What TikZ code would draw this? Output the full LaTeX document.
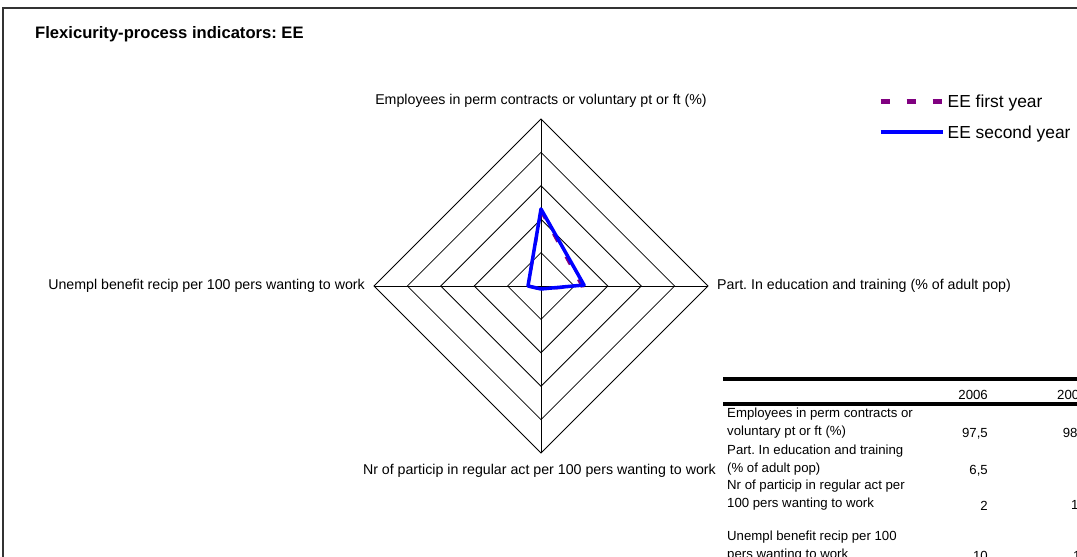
\documentclass[tikz,border=0pt]{standalone}
\usepackage{fontspec}
\setmainfont{Liberation Sans}
\usetikzlibrary{positioning}
\definecolor{seriespurple}{RGB}{128,0,128}
\definecolor{seriesblue}{RGB}{0,0,255}
\frenchspacing

\tikzset{
  axislabel/.style={inner sep=0pt, font=\fontsize{14.2}{17}\selectfont},
  cell/.style={inner sep=0pt, anchor=west, align=left, font=\fontsize{13.2}{18}\selectfont},
  num/.style={inner sep=0pt, font=\fontsize{13.2}{16}\selectfont},
  legendtext/.style={inner sep=0pt, anchor=west, font=\fontsize{17.4}{20}\selectfont},
  ring/.style={line width=0.8pt},
  firstyear/.style={seriespurple, line width=3pt, dash pattern=on 9pt off 17pt},
  secondyear/.style={seriesblue, line width=3.5pt, line join=round},
  tablerule/.style={line width=3.3pt},
}

\begin{document}
\begin{tikzpicture}[x=1pt, y=-1pt]

    \useasboundingbox (0,0) rectangle (1077,557);
    \clip (0,0) rectangle (1077,557);

    % Frame and title
    \draw[line width=1.5pt, black!80] (3,570) -- (3,8) -- (1090,8);
    \node[anchor=west, inner sep=0pt, font=\fontsize{16.6}{20}\selectfont\bfseries] (title) at (35,34.5) {Flexicurity-process indicators: EE};

    % Radar grid
    \coordinate (ctr) at (541,286);
    \coordinate (vTop) at (541,119);
    \coordinate (vRight) at (708,286);
    \coordinate (vBot) at (541,453);
    \coordinate (vLeft) at (374,286);
    \foreach \r in {1,...,5}
        \draw[ring] (541,{286-33.4*\r}) -- ({541+33.4*\r},286) -- (541,{286+33.4*\r}) -- ({541-33.4*\r},286) -- cycle;
    \draw[ring] (vTop) -- (vBot);
    \draw[ring] (vLeft) -- (vRight);

    % Axis labels
    \node[axislabel, above=11pt of vTop] (labTop) {Employees in perm contracts or voluntary pt or ft (\%)};
    \node[axislabel, right=9pt of vRight] (labRight) {Part. In education and training (\% of adult pop)};
    \node[axislabel, left=9pt of vLeft] (labLeft) {Unempl benefit recip per 100 pers wanting to work};
    \node[axislabel, anchor=east] (labBot) at (716,471) {Nr of particip in regular act per 100 pers wanting to work};

    % Series
    \draw[firstyear] (541,211) -- (582,286) -- (541,289) -- (528,286) -- cycle;
    \draw[secondyear] (541,209) -- (584,285) -- (541,289) -- (528,286) -- cycle;

    % Legend
    \coordinate (lgA1) at (880.7,101.5);
    \coordinate (lgA2) at (942,101.5);
    \coordinate (lgB1) at (880.7,131.5);
    \coordinate (lgB2) at (943.3,131.5);
    \draw[seriespurple, line width=4.3pt, dash pattern=on 9.3pt off 16.7pt] (lgA1) -- (lgA2);
    \draw[seriesblue, line width=4pt] (lgB1) -- (lgB2);
    \node[legendtext] (lgTextA) at (947.5,102.5) {EE first year};
    \node[legendtext] (lgTextB) at (947.5,134) {EE second year};

    % Data table
    \draw[tablerule] (723,379) -- (1090,379);
    \draw[tablerule] (723,404) -- (1090,404);
    \node[num, anchor=east] (h1) at (988,395) {2006};
    \node[num, anchor=west] (h2) at (1057,395) {200};

    \node[cell] (row1) at (727,423.5) {Employees in perm contracts or\\voluntary pt or ft (\%)};
    \node[cell] (row2) at (727,460) {Part. In education and training\\(\% of adult pop)};
    \node[cell] (row3) at (727,495) {Nr of particip in regular act per\\100 pers wanting to work};
    \node[cell] (row4) at (727,546.5) {Unempl benefit recip per 100\\pers wanting to work};

    \node[num, anchor=east] (v11) at (988,434) {97,5};
    \node[num, anchor=east] (v21) at (988,471) {6,5};
    \node[num, anchor=east] (v31) at (988,506) {2};
    \node[num, anchor=east] (v41) at (988,556) {10};
    \node[num, anchor=west] (v12) at (1062.7,434) {98,};
    \node[num, anchor=west] (v32) at (1071,506) {1,};
    \node[num, anchor=west] (v42) at (1073,556) {1};

\end{tikzpicture}
\end{document}
